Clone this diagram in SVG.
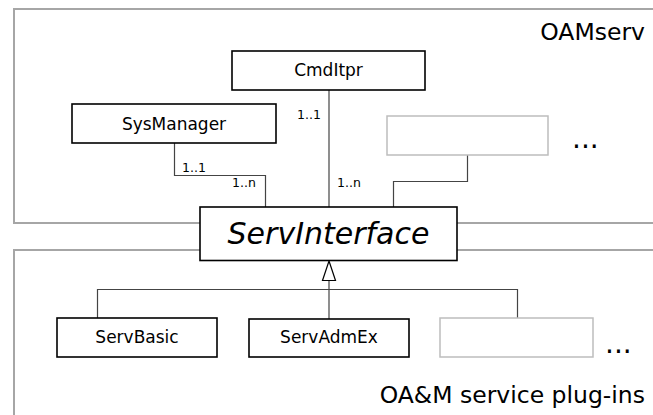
<svg xmlns="http://www.w3.org/2000/svg" width="653" height="415" viewBox="0 0 653 415">
  <style>
    .pkg { fill: #ffffff; stroke: #a6a6a6; stroke-width: 2; }
    .cls { fill: #ffffff; stroke: #000000; stroke-width: 1.6; }
    .ghost { fill: #ffffff; stroke: #bdbdbd; stroke-width: 1.5; }
    .name { font-family: "DejaVu Sans", "Liberation Sans", sans-serif; font-size: 17px; fill: #000000; text-anchor: middle; }
    .title { font-family: "DejaVu Sans", "Liberation Sans", sans-serif; font-size: 23.5px; fill: #000000; text-anchor: end; }
    .mult { font-family: "DejaVu Sans", "Liberation Sans", sans-serif; font-size: 12.5px; fill: #000000; }
    .more { font-family: "DejaVu Sans", "Liberation Sans", sans-serif; font-size: 28px; fill: #000000; }
    .wire { fill: none; stroke: #444444; stroke-width: 1.2; }
  </style>

  <rect width="653" height="415" fill="#ffffff"/>

  <!-- package frames -->
  <g id="pkg-oamserv">
    <rect class="pkg" x="14" y="9" width="660" height="214"/>
    <text class="title" x="645" y="40">OAMserv</text>
    <text class="more" x="572" y="148">...</text>
  </g>
  <g id="pkg-plugins">
    <rect class="pkg" x="14" y="250" width="660" height="180"/>
    <text class="title" x="645" y="403">OA&amp;M service plug-ins</text>
    <text class="more" x="605" y="353">...</text>
  </g>

  <!-- connectors -->
  <g id="connectors">
    <polyline class="wire" points="174.5,143 174.5,175.5 265.5,175.5 265.5,207"/>
    <line class="wire" x1="329" y1="90" x2="329" y2="207"/>
    <polyline class="wire" points="467.5,155 467.5,181.5 393.5,181.5 393.5,207"/>
    <text class="mult" x="182" y="172">1..1</text>
    <text class="mult" x="232" y="187">1..n</text>
    <text class="mult" x="297" y="119">1..1</text>
    <text class="mult" x="337" y="187">1..n</text>

    <!-- generalization tree -->
    <polyline class="wire" points="97.5,318 97.5,289.5 517.5,289.5 517.5,318"/>
    <line class="wire" x1="329" y1="280.5" x2="329" y2="319"/>
    <polygon points="329,261 322.5,280.5 335.5,280.5" fill="#ffffff" stroke="#000000" stroke-width="1.2"/>
  </g>

  <!-- classes -->
  <g id="CmdItpr">
    <rect class="cls" x="232" y="51" width="193" height="39" stroke-width="2"/>
    <text class="name" x="328.5" y="76">CmdItpr</text>
  </g>
  <g id="SysManager">
    <rect class="cls" x="72" y="104" width="204" height="39"/>
    <text class="name" x="174" y="129.5">SysManager</text>
  </g>
  <g id="OamservSlot">
    <rect class="ghost" x="387" y="116" width="161" height="39"/>
  </g>
  <g id="ServInterface">
    <rect class="cls" x="200" y="207" width="257" height="53.5" stroke-width="2"/>
    <text x="328.5" y="244" font-family="'DejaVu Sans', 'Liberation Sans', sans-serif" font-size="30" font-style="italic" text-anchor="middle">ServInterface</text>
  </g>
  <g id="ServBasic">
    <rect class="cls" x="57" y="318" width="160" height="39"/>
    <text class="name" x="137" y="343">ServBasic</text>
  </g>
  <g id="ServAdmEx">
    <rect class="cls" x="249" y="319" width="160" height="38"/>
    <text class="name" x="329" y="343">ServAdmEx</text>
  </g>
  <g id="PluginSlot">
    <rect class="ghost" x="440" y="318" width="153" height="39"/>
  </g>
</svg>
